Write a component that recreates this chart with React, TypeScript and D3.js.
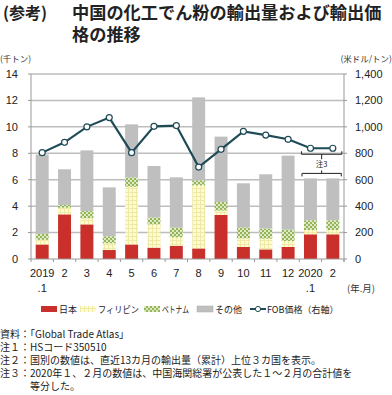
import React from "react";
import { scaleBand, scaleLinear, line } from "d3";

// 年.月
const months = ["2019.1", "2", "3", "4", "5", "6", "7", "8", "9", "10", "11", "12", "2020.1", "2"];
// 千トン
const japan = [1.1, 3.38, 2.62, 0.68, 1.1, 0.86, 1.0, 0.8, 3.33, 0.91, 0.73, 0.91, 1.87, 1.87];
const philippines = [0.35, 0.5, 0.46, 0.51, 4.37, 1.76, 0.64, 4.77, 0.33, 0.65, 0.81, 0.45, 0.32, 0.32];
const vietnam = [0.45, 0.21, 0.55, 0.53, 0.71, 0.53, 0.73, 0.38, 0.65, 0.84, 0.76, 0.86, 0.74, 0.74];
const others = [6.0, 2.7, 4.59, 3.7, 4.01, 3.89, 3.81, 6.28, 4.95, 3.33, 4.11, 5.6, 3.17, 3.17];
// 米ドル/トン
const fob = [805, 883, 1000, 1070, 805, 1004, 1010, 696, 830, 966, 938, 906, 838, 838];

const leftTicks = [0, 2, 4, 6, 8, 10, 12, 14];
const rightTicks = [0, 200, 400, 600, 800, 1000, 1200, 1400];

const notes = [
  "資料：「Global Trade Atlas」",
  "注１：HSコード350510",
  "注２：国別の数値は、直近13カ月の輸出量（累計）上位３カ国を表示。",
  "注３：2020年１、２月の数値は、中国海関総署が公表した１～２月の合計値を",
  "　　　等分した。",
];

const FONT = "'Liberation Sans', Arial, 'Noto Sans CJK JP', sans-serif";
const JP = "'Noto Sans CJK JP', sans-serif";

export default function App() {
  const left = 31;
  const right = 344;
  const top = 74;
  const bottom = 259;

  const x = scaleBand<number>()
    .domain(months.map((_, i) => i))
    .range([left, right])
    .paddingInner(0.42)
    .paddingOuter(0.21);
  const y = scaleLinear().domain([0, 14]).range([bottom, top]);
  const yR = scaleLinear().domain([0, 1400]).range([bottom, top]);

  const series = [
    { name: "日本", values: japan, fill: "#c9302c" },
    { name: "フィリピン", values: philippines, fill: "url(#phil)" },
    { name: "ベトナム", values: vietnam, fill: "url(#viet)" },
    { name: "その他", values: others, fill: "#bfbfbf" },
  ];

  const bw = x.bandwidth();
  const cx = (i: number) => (x(i) as number) + bw / 2;

  const fobLine = line<number>()
    .x((_, i) => cx(i))
    .y((d) => yR(d));

  // bracket annotation for the last two months
  const a = 12;
  const b = 13;
  const upY = yR(Math.min(fob[a], fob[b])) + 6;
  const totalA = japan[a] + philippines[a] + vietnam[a] + others[a];
  const lowY = y(totalA) - 5;
  const ux1 = cx(a) - 9;
  const ux2 = cx(b) + 9;
  const lx1 = x(a)! - 2;
  const lx2 = x(b)! + bw + 2;
  const mid = (lx1 + lx2) / 2;

  const legend = [
    { x: 41, w: 0, label: "日本", fill: "#c9302c" },
    { x: 80, w: 41, label: "フィリピン", fill: "url(#phil)" },
    { x: 144, w: 27, label: "ベトナム", fill: "url(#viet)" },
    { x: 197, w: 0, label: "その他", fill: "#bfbfbf" },
  ];

  return (
    <svg width={392} height={395} style={{ position: "absolute", left: 0, top: 0 }}>
      <defs>
        <pattern id="phil" width={4} height={4} patternUnits="userSpaceOnUse">
          <rect width={4} height={4} fill="#fdfbcf" />
          <rect width={4} height={1} fill="#efe9a6" />
          <rect width={1} height={4} fill="#efe9a6" />
        </pattern>
        <pattern id="viet" width={4} height={4} patternUnits="userSpaceOnUse">
          <rect width={4} height={4} fill="#dfeac4" />
          <rect width={2} height={2} fill="#93b457" />
          <rect x={2} y={2} width={2} height={2} fill="#93b457" />
        </pattern>
      </defs>

      {/* title */}
      <text x={3} y={19} fontFamily={JP} fontWeight="bold" fontSize={16} fill="#222">
        (参考)
      </text>
      <text x={72} y={19} fontFamily={JP} fontWeight="bold" fontSize={17.2} fill="#222">
        中国の化工でん粉の輸出量および輸出価
      </text>
      <text x={72} y={41} fontFamily={JP} fontWeight="bold" fontSize={17.2} fill="#222">
        格の推移
      </text>

      {/* unit labels */}
      <text x={0} y={62} fontFamily={JP} fontSize={8.5} fill="#333">
        (千トン)
      </text>
      <text x={392} y={62} textAnchor="end" fontFamily={JP} fontSize={8.5} fill="#333">
        (米ドル/トン)
      </text>

      {/* grid */}
      {leftTicks.map((t) => (
        <g key={t}>
          {t > 0 && (
            <line x1={left} x2={right} y1={y(t)} y2={y(t)} stroke="#bdbdbd" strokeWidth={1.5} />
          )}
          <line x1={left - 3} x2={left} y1={y(t)} y2={y(t)} stroke="#999" />
          <text x={18} y={y(t)} dy="0.35em" textAnchor="end" fontFamily={FONT} fontSize={11} fill="#222">
            {t}
          </text>
        </g>
      ))}
      {rightTicks.map((t) => (
        <g key={t}>
          <line x1={right} x2={right + 3} y1={yR(t)} y2={yR(t)} stroke="#999" />
          <text x={355} y={yR(t)} dy="0.35em" fontFamily={FONT} fontSize={11} fill="#222">
            {t.toLocaleString("en-US")}
          </text>
        </g>
      ))}

      {/* bars */}
      {months.map((_, i) => {
        let acc = 0;
        return (
          <g key={i}>
            {series.map((s) => {
              const v0 = acc;
              acc += s.values[i];
              return (
                <rect
                  key={s.name}
                  x={x(i)}
                  width={bw}
                  y={y(acc)}
                  height={y(v0) - y(acc)}
                  fill={s.fill}
                />
              );
            })}
          </g>
        );
      })}

      {/* axes */}
      <line x1={left} x2={left} y1={top} y2={bottom + 3} stroke="#999" />
      <line x1={right} x2={right} y1={top} y2={bottom + 3} stroke="#999" />
      <line x1={left} x2={right} y1={bottom} y2={bottom} stroke="#999" />
      {months.map((_, i) => (
        <line
          key={i}
          x1={x(i)! + bw + x.step() * 0.21}
          x2={x(i)! + bw + x.step() * 0.21}
          y1={bottom}
          y2={bottom + 3}
          stroke="#999"
        />
      ))}
      {months.map((m, i) => {
        const [yr, mo] = m.split(".");
        return (
          <g key={i} fontFamily={FONT} fontSize={11} fill="#222" textAnchor="middle">
            <text x={cx(i)} y={277}>
              {yr}
            </text>
            {mo && (
              <text x={cx(i)} y={292}>
                .{mo}
              </text>
            )}
          </g>
        );
      })}
      <text x={347} y={292} fontFamily={JP} fontSize={9.5} fill="#333">
        (年.月)
      </text>

      {/* FOB line */}
      <path d={fobLine(fob) || ""} fill="none" stroke="#1e4b57" strokeWidth={2.2} />
      {fob.map((v, i) => (
        <circle key={i} cx={cx(i)} cy={yR(v)} r={3} fill="#fff" stroke="#1e4b57" strokeWidth={1.2} />
      ))}

      {/* note 3 brackets */}
      <g stroke="#222" strokeWidth={1} fill="none">
        <path d={`M${ux1},${upY - 3}V${upY}H${ux2}V${upY - 3}`} />
        <line x1={mid} x2={mid} y1={upY} y2={upY + 5} />
        <path d={`M${lx1},${lowY + 3}V${lowY}H${lx2}V${lowY + 3}`} />
        <line x1={mid} x2={mid} y1={lowY} y2={lowY - 3} />
      </g>
      <text x={mid} y={upY + 13} textAnchor="middle" fontFamily={JP} fontSize={7.5} fill="#222">
        注3
      </text>

      {/* legend */}
      {legend.map((l) => (
        <g key={l.label}>
          <rect x={l.x} y={306} width={16} height={6} fill={l.fill} stroke={l.fill === "#bfbfbf" ? "#aaa" : "none"} strokeWidth={0.5} />
          <text
            x={l.x + 18}
            y={313}
            fontFamily={JP}
            fontSize={9}
            fill="#222"
            textLength={l.w || undefined}
            lengthAdjust={l.w ? "spacingAndGlyphs" : undefined}
          >
            {l.label}
          </text>
        </g>
      ))}
      <line x1={250} x2={266} y1={309} y2={309} stroke="#1e4b57" strokeWidth={2} />
      <circle cx={258} cy={309} r={2.6} fill="#fff" stroke="#1e4b57" strokeWidth={1} />
      <text x={267} y={313} fontFamily={JP} fontSize={9} fill="#222">
        FOB価格（右軸）
      </text>

      {/* notes */}
      {notes.map((n, i) => (
        <text key={i} x={0} y={338 + i * 13} fontFamily={JP} fontSize={10} fill="#222">
          {n}
        </text>
      ))}
    </svg>
  );
}
